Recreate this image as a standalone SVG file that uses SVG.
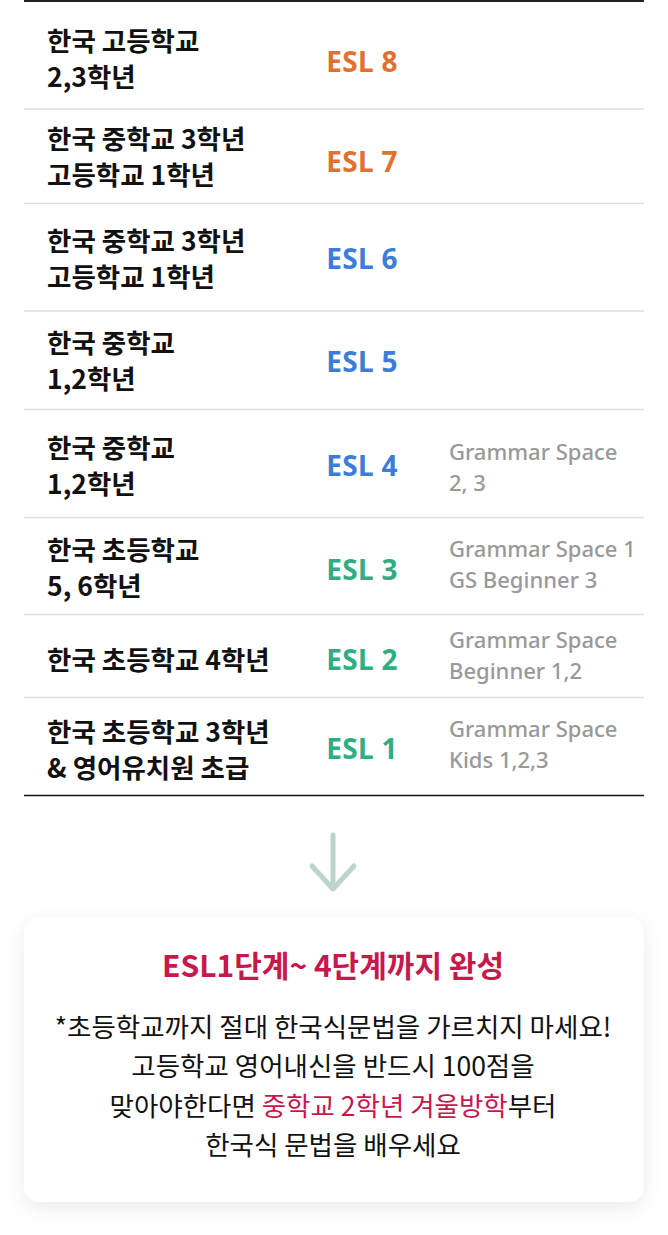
<svg xmlns="http://www.w3.org/2000/svg" width="668" height="1235" viewBox="0 0 668 1235">
<defs>
<filter id="sh" x="-10%" y="-20%" width="120%" height="140%">
<feDropShadow dx="0" dy="6" stdDeviation="9" flood-color="#000" flood-opacity="0.08"/>
</filter>
<style>
.lv{font-family:"Noto Sans CJK KR","Noto Sans",sans-serif;font-size:26.5px;font-weight:600;fill:#111}
.esl{font-family:"Noto Sans","Noto Sans CJK KR",sans-serif;font-size:28px;font-weight:700;text-anchor:middle;letter-spacing:0.3px}
.o{fill:#E0712F}.b{fill:#3B7DD8}.g{fill:#2FAE83}
.gr{font-family:"Noto Sans","Noto Sans CJK KR",sans-serif;font-size:22px;font-weight:500;fill:#999}
.sep{stroke:#DDDDDD;stroke-width:1.5}
.body{font-family:"Noto Sans CJK KR",sans-serif;font-size:26.5px;fill:#111;text-anchor:middle}
.red{fill:#C8174B}
</style>
</defs>
<rect width="668" height="1235" fill="#fff"/>
<g id="lines">
<line x1="24" y1="1" x2="644" y2="1" stroke="#222" stroke-width="2"/>
<line class="sep" x1="24" y1="109" x2="644" y2="109"/>
<line class="sep" x1="24" y1="203.5" x2="644" y2="203.5"/>
<line class="sep" x1="24" y1="311" x2="644" y2="311"/>
<line class="sep" x1="24" y1="409.5" x2="644" y2="409.5"/>
<line class="sep" x1="24" y1="517.5" x2="644" y2="517.5"/>
<line class="sep" x1="24" y1="614.5" x2="644" y2="614.5"/>
<line class="sep" x1="24" y1="697.5" x2="644" y2="697.5"/>
<line x1="24" y1="795.5" x2="644" y2="795.5" stroke="#111" stroke-width="1.5"/>
</g>
<g id="row8">
<text class="lv" x="47" y="51">한국 고등학교</text>
<text class="lv" x="47" y="87">2,3학년</text>
<text class="esl o" x="362" y="72">ESL 8</text>
</g>
<g id="row7">
<text class="lv" x="47" y="149">한국 중학교 3학년</text>
<text class="lv" x="47" y="185">고등학교 1학년</text>
<text class="esl o" x="362" y="172">ESL 7</text>
</g>
<g id="row6">
<text class="lv" x="47" y="251">한국 중학교 3학년</text>
<text class="lv" x="47" y="287">고등학교 1학년</text>
<text class="esl b" x="362" y="269">ESL 6</text>
</g>
<g id="row5">
<text class="lv" x="47" y="353">한국 중학교</text>
<text class="lv" x="47" y="389">1,2학년</text>
<text class="esl b" x="362" y="372">ESL 5</text>
</g>
<g id="row4">
<text class="lv" x="47" y="458">한국 중학교</text>
<text class="lv" x="47" y="494">1,2학년</text>
<text class="esl b" x="362" y="476">ESL 4</text>
<text class="gr" x="449" y="460">Grammar Space</text>
<text class="gr" x="449" y="491">2, 3</text>
</g>
<g id="row3">
<text class="lv" x="47" y="560">한국 초등학교</text>
<text class="lv" x="47" y="596">5, 6학년</text>
<text class="esl g" x="362" y="580">ESL 3</text>
<text class="gr" x="449" y="557">Grammar Space 1</text>
<text class="gr" x="449" y="588">GS Beginner 3</text>
</g>
<g id="row2">
<text class="lv" x="47" y="670">한국 초등학교 4학년</text>
<text class="esl g" x="362" y="670">ESL 2</text>
<text class="gr" x="449" y="648">Grammar Space</text>
<text class="gr" x="449" y="679">Beginner 1,2</text>
</g>
<g id="row1">
<text class="lv" x="47" y="742">한국 초등학교 3학년</text>
<text class="lv" x="47" y="778">&amp; 영어유치원 초급</text>
<text class="esl g" x="362" y="759">ESL 1</text>
<text class="gr" x="449" y="737">Grammar Space</text>
<text class="gr" x="449" y="768">Kids 1,2,3</text>
</g>
<g id="connectors">
<path d="M333 835 V889 M312 866 L333 889 L354 866" fill="none" stroke="#BDD3CC" stroke-width="5" stroke-linecap="round" stroke-linejoin="round"/>
</g>
<g id="card">
<rect x="24" y="917" width="620" height="285" rx="16" fill="#fff" filter="url(#sh)"/>
<text x="333" y="977" text-anchor="middle" font-family="Noto Sans CJK KR,sans-serif" font-size="30" font-weight="700" fill="#C8174B">ESL1단계~ 4단계까지 완성</text>
<text class="body" x="333" y="1037">*초등학교까지 절대 한국식문법을 가르치지 마세요!</text>
<text class="body" x="333" y="1076">고등학교 영어내신을 반드시 100점을</text>
<text class="body" x="333" y="1116">맞아야한다면 <tspan class="red">중학교 2학년 겨울방학</tspan>부터</text>
<text class="body" x="333" y="1155">한국식 문법을 배우세요</text>
</g>
</svg>
